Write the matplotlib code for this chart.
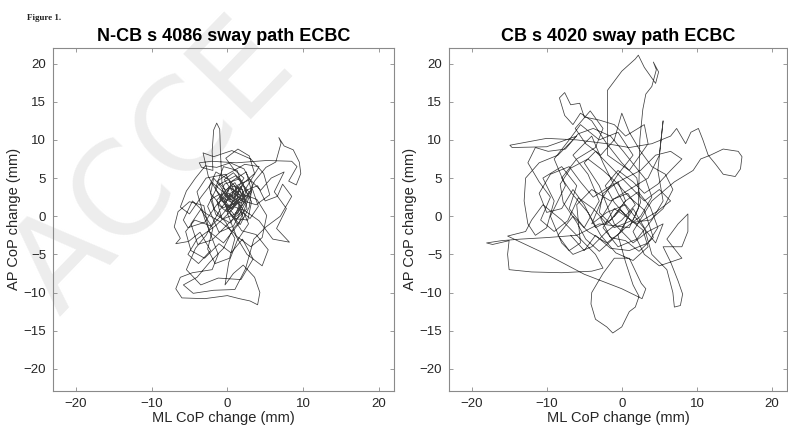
import numpy as np
import matplotlib
matplotlib.use('Agg')
from matplotlib import pyplot as plt

plt.rcParams['font.family'] = ['Liberation Sans', 'DejaVu Sans']

# titles / labels
titles = ['N-CB s 4086 sway path ECBC', 'CB s 4020 sway path ECBC']
xlabel = 'ML CoP change (mm)'
ylabel = 'AP CoP change (mm)'
xticks = [-20, -10, 0, 10, 20]
yticks = [-20, -15, -10, -5, 0, 5, 10, 15, 20]

# sway path (ML, AP) in mm
left_path = [
    (0.5,1.0),(1.8,2.6),(0.3,3.9),(-1.4,2.1),(-0.7,-0.4),(1.4,0.4),(2.9,3.1),(1.1,5.3),(-1.2,4.1),(-2.6,1.3),
    (-1.1,-2.1),(0.8,-1.3),(2.3,1.6),(3.6,4.6),(5.1,6.4),(6.4,7.1),(7.1,9.6),(6.8,10.3),(7.5,9.2),(8.7,8.7),
    (9.5,7.1),(9.7,5.6),(9.1,4.1),(8.1,4.6),(9.2,6.5),(8.5,7.2),(5.2,7.3),(1.2,7.0),(-2.1,7.2),(-3.7,7.0),
    (-3.4,6.4),(-1.9,6.0),(-2.0,8.5),(-1.8,11.3),(-1.4,12.2),(-1.0,11.4),(-0.9,8.2),(-0.7,4.3),(0.2,2.2),(1.6,3.5),
    (2.4,2.0),(0.9,0.2),(-0.4,1.8),(0.6,4.6),(2.5,5.8),(3.2,3.3),(1.5,-1.0),(-0.5,-3.5),(-2.4,-2.0),(-3.1,1.4),
    (-5.0,1.9),(-6.5,0.6),(-7.0,-1.4),(-6.2,-2.9),(-6.8,-3.6),(-5.1,-3.3),(-3.6,-2.1),(-2.2,-4.5),(-3.8,-6.2),(-5.2,-5.0),
    (-4.0,-3.0),(-1.5,-1.2),(0.4,0.6),(2.0,2.9),(3.9,2.2),(5.2,0.1),(4.6,-2.8),(3.1,-4.0),(1.2,-2.6),(0.0,0.4),
    (1.1,3.0),(-0.2,5.5),(-2.8,5.0),(-4.0,3.2),(-3.0,-0.3),(-1.2,-5.0),(-2.0,-7.0),(-4.6,-7.4),(-6.2,-8.0),(-6.8,-9.5),
    (-6.0,-10.7),(-3.0,-10.8),(0.0,-10.4),(1.6,-10.8),(3.0,-11.1),(4.0,-11.6),(4.3,-10.0),(3.6,-8.0),(2.1,-6.4),(0.8,-7.5),
    (-0.3,-9.0),(0.2,-6.0),(1.3,-3.2),(2.8,-1.0),(1.9,1.2),(0.6,2.7),(1.4,4.1),(3.0,4.8),(4.4,3.4),(5.8,5.0),
    (7.5,5.8),(6.2,3.2),(7.8,1.0),(6.5,-1.6),(8.2,-3.4),(6.0,-3.0),(4.2,-0.6),(2.2,0.8),(0.1,1.5),(-1.6,3.6),
    (-0.5,6.5),(1.3,6.0),(2.0,4.0),(0.8,2.0),(-0.6,0.3),(-2.1,-1.3),(-4.3,-0.5),(-5.5,-2.0),(-4.8,-4.5),(-3.0,-5.5),
    (-1.1,-3.6),(0.5,-4.8),(2.0,-3.0),(3.4,-5.6),(1.8,-8.3),(-1.2,-8.1),(-3.5,-9.0),(-5.4,-7.0),(-4.2,-4.2),(-2.8,-2.5),
    (-1.0,0.8),(0.9,3.3),(2.2,2.5),(1.0,1.3),(-0.3,2.8),(0.5,4.0),(2.0,3.5),(2.6,1.0),(1.2,-0.4),(-0.2,0.9),
    (1.5,2.2),(3.8,1.5),(5.6,2.8),(4.8,5.6),(3.1,7.5),(0.6,8.6),(-1.8,7.8),(-3.2,8.3),(-2.5,5.2),(-1.0,2.6),
    (0.5,0.2),(1.9,-1.9),(3.8,-2.4),(5.4,-4.4),(4.6,-6.5),(2.6,-5.0),(0.9,-2.2),(-0.8,-0.8),(-2.9,0.4),(-4.6,2.0),
    (-5.8,-0.5),(-5.2,-1.5),(-3.0,-0.8),(-1.4,1.5),(0.2,3.0),(1.7,1.7),(0.8,-0.3),(2.7,-0.5),(3.2,1.9),(1.6,4.9),
    (-0.4,4.2),(-1.0,2.2),(0.7,0.9),(2.6,3.9),(4.2,6.5),(2.3,6.8),(0.0,5.5),
    (-1.3,4.6),(-0.2,3.4),(1.0,4.4),(1.9,2.8),(0.6,1.8),(-0.6,2.4),(0.3,3.7),(1.5,3.1),(1.1,1.6),(-0.1,0.6),
    (-1.2,1.5),(-0.5,3.0),(0.9,2.4),(2.1,4.3),(3.6,5.6),(2.9,7.9),(1.4,8.8),(-0.2,7.6),(0.9,6.1),(2.2,5.0),
    (1.3,3.6),(0.2,4.8),(-1.5,5.8),(-2.4,3.9),(-1.7,0.9),(-0.2,-0.8),(1.0,-2.9),(0.3,-5.5),(-1.6,-6.2),(-2.6,-4.3),
    (-1.9,-1.6),(-3.5,0.9),(-4.8,-1.0),(-3.9,-3.7),(-2.0,-3.1),(-0.8,-1.9),(0.6,-0.5),(1.9,0.6),(3.0,-0.3),(4.1,1.3),
    (3.3,3.6),(2.0,2.1),(0.7,3.2),(-0.4,4.8),(0.8,5.7),(1.9,4.6),(2.7,2.8),(1.2,2.0),(0.0,1.0),(-1.0,2.9),
    (-2.2,2.2),(-1.5,0.2),(0.4,-0.9),(1.6,0.9),(2.5,3.4),(4.0,4.0),(5.0,2.0),(6.6,2.6),(7.3,4.2),(8.5,2.6),
    (7.0,0.0),(5.1,-1.4),(3.5,-3.0),(2.4,-6.9),(1.0,-9.6),(-1.8,-9.7),(-4.5,-10.1),(-5.8,-9.0),(-4.0,-8.0),(-2.3,-6.0),
    (-0.5,-4.2),(0.8,-1.6),(2.1,-0.2),(1.4,1.8),(0.1,2.3),(-0.9,3.9),(-1.8,5.0),(-2.2,3.0),(-0.6,1.1),(0.9,1.6),
    (2.4,2.0),(1.8,3.9),(0.4,3.0),(-0.3,1.6),(0.6,0.0),(1.7,-1.1),(2.9,1.2),(3.3,4.2),(2.2,6.2),(0.4,7.0),
    (-1.4,6.4),(-2.9,6.6),(-4.2,5.0),(-5.4,3.3),(-6.2,1.2),(-5.0,0.3),(-3.4,2.6),(-2.0,4.4),(-0.7,3.3),(0.5,2.2),
    (1.4,2.9),(1.0,4.0),
]

right_path = [
    (-1.0,0.0),(0.5,2.0),(-0.5,4.5),(-2.5,3.0),(-3.0,0.5),(-1.0,-1.5),(1.5,-0.5),(2.5,1.8),(2.0,5.0),(0.0,7.0),
    (-2.0,9.5),(-4.0,12.5),(-5.5,13.5),(-6.5,12.0),(-7.6,13.2),(-8.3,15.5),(-7.6,16.2),(-6.8,14.6),(-5.6,14.8),(-5.0,13.0),
    (-3.0,12.6),(-1.0,12.0),(0.5,10.5),(3.0,12.0),(3.5,9.5),(1.0,6.0),(-1.9,8.0),(-1.9,13.0),(-1.9,16.5),(0.0,19.0),
    (1.8,20.6),(2.2,21.1),(3.0,19.5),(4.5,17.4),(4.9,18.9),(4.2,20.2),(4.6,19.2),(4.0,17.0),(3.2,16.0),(2.8,14.0),
    (2.4,10.0),(2.3,5.0),(2.2,1.0),(1.0,-1.5),(-3.0,-1.0),(-6.0,-2.5),(-10.0,-2.8),(-13.5,-3.0),(-16.0,-3.2),(-18.0,-3.5),
    (-17.2,-3.7),(-15.0,-3.2),(-15.2,-5.0),(-15.0,-7.0),(-12.0,-7.3),(-8.0,-7.4),(-4.0,-7.2),(-2.5,-6.8),(-3.5,-5.0),(-5.5,-3.0),
    (-8.0,-0.5),(-10.5,1.5),(-12.0,-0.5),(-12.8,-2.0),(-15.2,-2.6),(-10.0,-5.0),(-5.0,-7.6),(0.0,-9.5),(2.7,-10.8),(3.2,-9.5),
    (2.6,-8.8),(1.0,-5.5),(-1.0,-5.5),(-2.5,-7.5),(-4.0,-10.0),(-4.1,-11.5),(-3.5,-13.5),(-2.0,-14.5),(-1.2,-15.3),(0.0,-14.5),
    (1.0,-12.5),(1.8,-11.9),(2.3,-10.5),(1.5,-9.0),(0.5,-6.0),(-0.5,-2.5),(1.5,1.0),(3.0,-1.5),(4.0,-5.0),(6.0,-7.0),
    (6.8,-10.0),(7.0,-11.9),(7.8,-11.7),(8.1,-10.2),(7.5,-8.5),(6.5,-6.0),(5.5,-4.0),(8.0,-4.0),(8.8,-2.0),(8.8,0.3),
    (7.5,-1.0),(6.0,-3.0),(8.0,-5.5),(5.0,-6.5),(3.0,-5.0),(1.5,-2.0),(4.0,2.0),(7.0,4.5),(9.5,6.0),(10.5,7.5),
    (11.8,8.0),(13.5,8.8),(15.5,8.5),(16.0,7.8),(15.8,6.2),(15.1,5.2),(13.5,5.5),(12.5,6.8),(11.5,8.0),(10.8,10.0),
    (10.2,11.5),(9.2,11.0),(8.5,9.5),(7.3,11.5),(6.5,10.5),(4.0,9.5),(1.0,9.0),(-2.0,9.5),(-6.0,10.0),(-10.0,10.2),
    (-14.9,9.3),(-14.6,9.0),(-10.0,9.1),(-8.0,9.8),(-6.0,10.5),(-8.5,8.0),(-11.0,7.0),(-12.8,5.0),(-13.0,2.0),(-12.5,-1.0),
    (-11.5,-2.5),(-10.0,-1.5),(-9.0,2.0),(-10.5,5.0),(-8.0,6.5),(-6.0,4.0),(-7.0,1.0),(-5.0,-1.5),(-3.0,2.0),(-4.5,5.5),
    (-6.5,8.0),(-4.0,10.5),(-2.5,7.0),(-0.5,3.0),(1.0,0.5),(0.0,-2.0),(-2.0,-3.5),(-4.5,-2.0),(-6.5,0.0),(-8.5,-2.5),
    (-7.0,-4.5),(-5.5,-3.5),(-6.0,1.5),(-4.0,3.5),(-1.5,2.0),(1.0,3.5),(3.5,5.0),(5.0,8.0),(5.5,12.5),(4.8,6.0),
    (5.5,2.0),(4.0,-0.5),(2.0,-3.0),(-0.5,-4.0),(-2.5,-1.5),(-1.0,1.0),(2.0,-1.0),(4.5,0.5),(6.5,2.0),(5.0,3.5),
    (3.0,2.0),(0.5,4.5),(-1.5,6.5),(-3.5,8.5),(-5.0,7.0),(-3.0,4.0),(-1.0,-1.0),(1.5,-3.5),(3.5,-2.0),(5.5,-1.0),
    (4.5,-3.5),(2.5,-1.0),(0.5,1.5),(-2.0,0.5),(-4.0,-1.0),(-2.5,2.5),(-0.5,5.5),(1.5,8.0),(-0.5,11.0),(-3.0,10.0),
    (-5.5,12.0),(-7.0,10.0),(-9.0,7.5),(-7.5,4.0),(-9.5,0.0),(-8.0,-3.5),(-6.5,-5.0),(-4.0,-4.0),(-2.0,-2.0),(0.0,-0.5),
    (1.8,1.5),(0.8,3.0),(-1.2,2.2),(-2.8,-0.3),(-1.5,-2.8),(0.5,-3.2),(2.3,-4.6),(4.2,-2.8),(3.0,0.8),(1.0,2.5),
    (-0.8,4.5),(-2.5,6.0),(-4.5,7.5),(-6.8,6.3),(-8.2,4.2),(-7.8,1.8),(-6.0,-0.8),(-4.8,-3.0),(-3.0,-4.6),(-1.2,-3.0),
    (0.5,-1.5),(2.5,0.0),(4.0,2.5),(3.2,4.8),(1.8,6.5),(0.2,8.5),(-1.5,10.5),(-3.8,11.5),(-5.8,10.8),(-7.5,8.8),
    (-9.8,8.5),(-11.5,9.0),(-12.5,7.0),(-11.0,4.5),(-9.5,2.5),(-10.8,-0.5),(-9.0,-2.0),(-7.2,-0.6),(-5.8,2.4),(-3.8,1.0),
    (-2.0,-1.0),(-0.2,0.8),(1.5,-0.8),(3.8,-0.5),(5.5,1.0),(6.8,3.5),(5.8,5.5),(4.0,6.5),(2.5,8.5),(1.0,11.0),
    (0.0,13.5),(-1.0,10.0),(-2.8,8.0),(-4.8,9.5),(-6.2,11.5),(-4.2,13.8),(-2.5,11.5),(-3.5,9.0),(-6.0,7.5),(-8.0,5.0),
    (-6.5,2.8),(-4.5,0.5),(-2.8,-2.5),(-0.8,-4.8),(1.5,-5.8),(3.5,-4.0),(2.8,-1.8),(0.8,-0.2),(-1.0,1.8),(-2.2,4.0),
    (-0.5,6.0),(1.5,4.5),(3.0,3.0),(4.8,4.2),(6.5,6.0),(8.0,7.5),(6.5,8.5),(4.5,8.0),(2.5,6.0),(0.5,5.0),
    (-1.8,3.8),(-3.8,2.5),(-5.5,4.5),(-7.0,6.5),(-9.5,5.5),(-11.0,3.0),(-10.0,0.5),(-8.0,1.0),(-6.5,3.5),(-5.0,1.5),
    (-3.5,-1.5),(-1.5,-0.5),(0.5,2.0),(2.2,3.2),(3.8,1.2),(4.8,-1.5),(3.5,-3.5),(1.0,-4.5),(-1.5,-4.2),(-3.5,-2.5),
    (-5.0,-4.5),(-6.8,-2.5),
]

fig = plt.figure(figsize=(7.88, 4.34), dpi=100)

# faint watermark behind everything
fig.text(0.075, 0.27, 'ACCE', fontsize=92, color='#ededed',
         rotation=46, rotation_mode='anchor', ha='left', va='baseline',
         family='DejaVu Sans', zorder=-1)

fig.text(0.034, 0.955, 'Figure 1.', fontsize=6.5, fontweight='bold',
         family='Liberation Serif', color='#222222')

boxes = [[0.0673, 0.099, 0.4327, 0.7915], [0.5698, 0.099, 0.429, 0.7915]]
paths = [left_path, right_path]

for i in range(2):
    ax = fig.add_axes(boxes[i])
    ax.set_facecolor('none')
    px, py = zip(*paths[i])
    ax.plot(px, py, color='#404040', lw=0.55)
    ax.set_xlim(-23, 22)
    ax.set_ylim(-22.9, 22.1)
    ax.set_xticks(xticks)
    ax.set_yticks(yticks)
    ax.tick_params(direction='in', top=True, right=True, length=3,
                   width=0.6, color='#8a8a8a', labelsize=9.5,
                   labelcolor='#262626', pad=5)
    for s in ax.spines.values():
        s.set_color('#8a8a8a')
        s.set_linewidth(0.8)
    ax.set_xlabel(xlabel, fontsize=10.5, color='#262626', labelpad=1)
    ax.set_ylabel(ylabel, fontsize=10.5, color='#262626', labelpad=2)
    ax.set_title(titles[i], fontsize=13, fontweight='bold', pad=5)

fig.savefig('out.png', dpi=100)
